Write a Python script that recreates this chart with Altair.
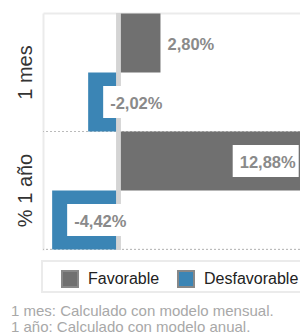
import altair as alt
import pandas as pd

periods = ["1 mes", "% 1 año"]
series = ["Favorable", "Desfavorable"]
favorable = [2.80, 12.88]
desfavorable = [-2.02, -4.42]
colors = ["#707070", "#3b85b5"]
footnotes = ["1 mes: Calculado con modelo mensual.", "1 año: Calculado con modelo anual."]

rows = []
for p, f, d in zip(periods, favorable, desfavorable):
    rows.append({"period": p, "series": series[0], "value": f})
    rows.append({"period": p, "series": series[1], "value": d})
df = pd.DataFrame(rows)
df["label"] = df["value"].map(lambda v: f"{v:.2f}".replace(".", ",") + "%")

base = alt.Chart(df)
Y = alt.Y("period:N", sort=periods, scale=alt.Scale(paddingInner=0, paddingOuter=0.005),
          axis=alt.Axis(title=None, labelAngle=270, labelFontSize=20, labelColor="#333",
                        labelFont="Liberation Sans", labelPadding=8, ticks=False, grid=False,
                        domainColor="#ebebeb", domainWidth=2))
YO = alt.YOffset("series:N", sort=series, scale=alt.Scale(paddingInner=0, paddingOuter=0))
X = alt.X("value:Q", scale=alt.Scale(domain=[-5.03, 12.10], nice=False, zero=False),
          axis=alt.Axis(orient="top", title=None, labels=False, ticks=False, grid=False,
                        domainColor="#ebebeb", domainWidth=2))

sep = base.mark_rule(color="#bbbbbb", strokeDash=[2, 2], strokeWidth=1).encode(
    y=alt.Y("period:N", sort=periods, bandPosition=1)
)

bars = base.mark_bar(clip=True).encode(
    x=X,
    y=Y,
    yOffset=YO,
    color=alt.Color("series:N", sort=series,
                    scale=alt.Scale(domain=series, range=colors),
                    legend=alt.Legend(title=None, orient="none", direction="horizontal",
                                      legendX=18, legendY=257, symbolType="square",
                                      symbolSize=256, symbolStrokeColor="#888888",
                                      symbolStrokeWidth=2, symbolOpacity=1,
                                      labelFontSize=16, labelColor="#222",
                                      labelFont="Liberation Sans", labelOffset=9,
                                      columnPadding=14, padding=0)),
)

zero = base.mark_rule(color="#d4d4d4", strokeWidth=4).encode(x=alt.datum(0))

neg_box = base.transform_filter("datum.value < 0").mark_bar(
    color="white", height=32, xOffset=15, x2Offset=78
).encode(x="value:Q", x2="value:Q", y=alt.Y("period:N", sort=periods), yOffset=YO)

big_box = base.transform_filter("datum.value >= 5").mark_bar(
    color="white", height=32, xOffset=-79, x2Offset=-13
).encode(x="value:Q", x2="value:Q", y=alt.Y("period:N", sort=periods), yOffset=YO)

tstyle = dict(fontSize=16.5, fontWeight="bold", color="#8a8a8a", font="Liberation Sans",
              baseline="middle", dy=2)
neg_txt = base.transform_filter("datum.value < 0").mark_text(align="left", dx=22, **tstyle).encode(
    x="value:Q", y=alt.Y("period:N", sort=periods), yOffset=YO, text="label:N")
small_txt = base.transform_filter("datum.value > 0 && datum.value < 5").mark_text(
    align="left", dx=7, **tstyle).encode(
    x="value:Q", y=alt.Y("period:N", sort=periods), yOffset=YO, text="label:N")
big_txt = base.transform_filter("datum.value >= 5").mark_text(align="right", dx=-16, **tstyle).encode(
    x="value:Q", y=alt.Y("period:N", sort=periods), yOffset=YO, text="label:N")

one = alt.Chart(pd.DataFrame({"k": [0]}))
legend_box = one.mark_rect(fill="white", stroke="#ebebeb", strokeWidth=2).encode(
    x=alt.value(-1), x2=alt.value(290), y=alt.value(248), y2=alt.value(279))

notes = alt.Chart(pd.DataFrame({"t": [footnotes]})).mark_text(
    align="left", baseline="alphabetic", fontSize=15, color="#a8a8a8",
    font="Liberation Sans", lineHeight=16
).encode(x=alt.value(-32), y=alt.value(303), text="t")

chart = alt.layer(sep, bars, zero, neg_box, big_box, neg_txt, small_txt, big_txt,
                  legend_box, notes).properties(
    width=257, height=237,
    autosize=alt.AutoSizeParams(type="none"),
    padding={"left": 35, "top": 5, "right": 0, "bottom": 88},
).configure_view(stroke=None)

chart.save("out.html", embed_options={"renderer": "svg", "actions": False})
